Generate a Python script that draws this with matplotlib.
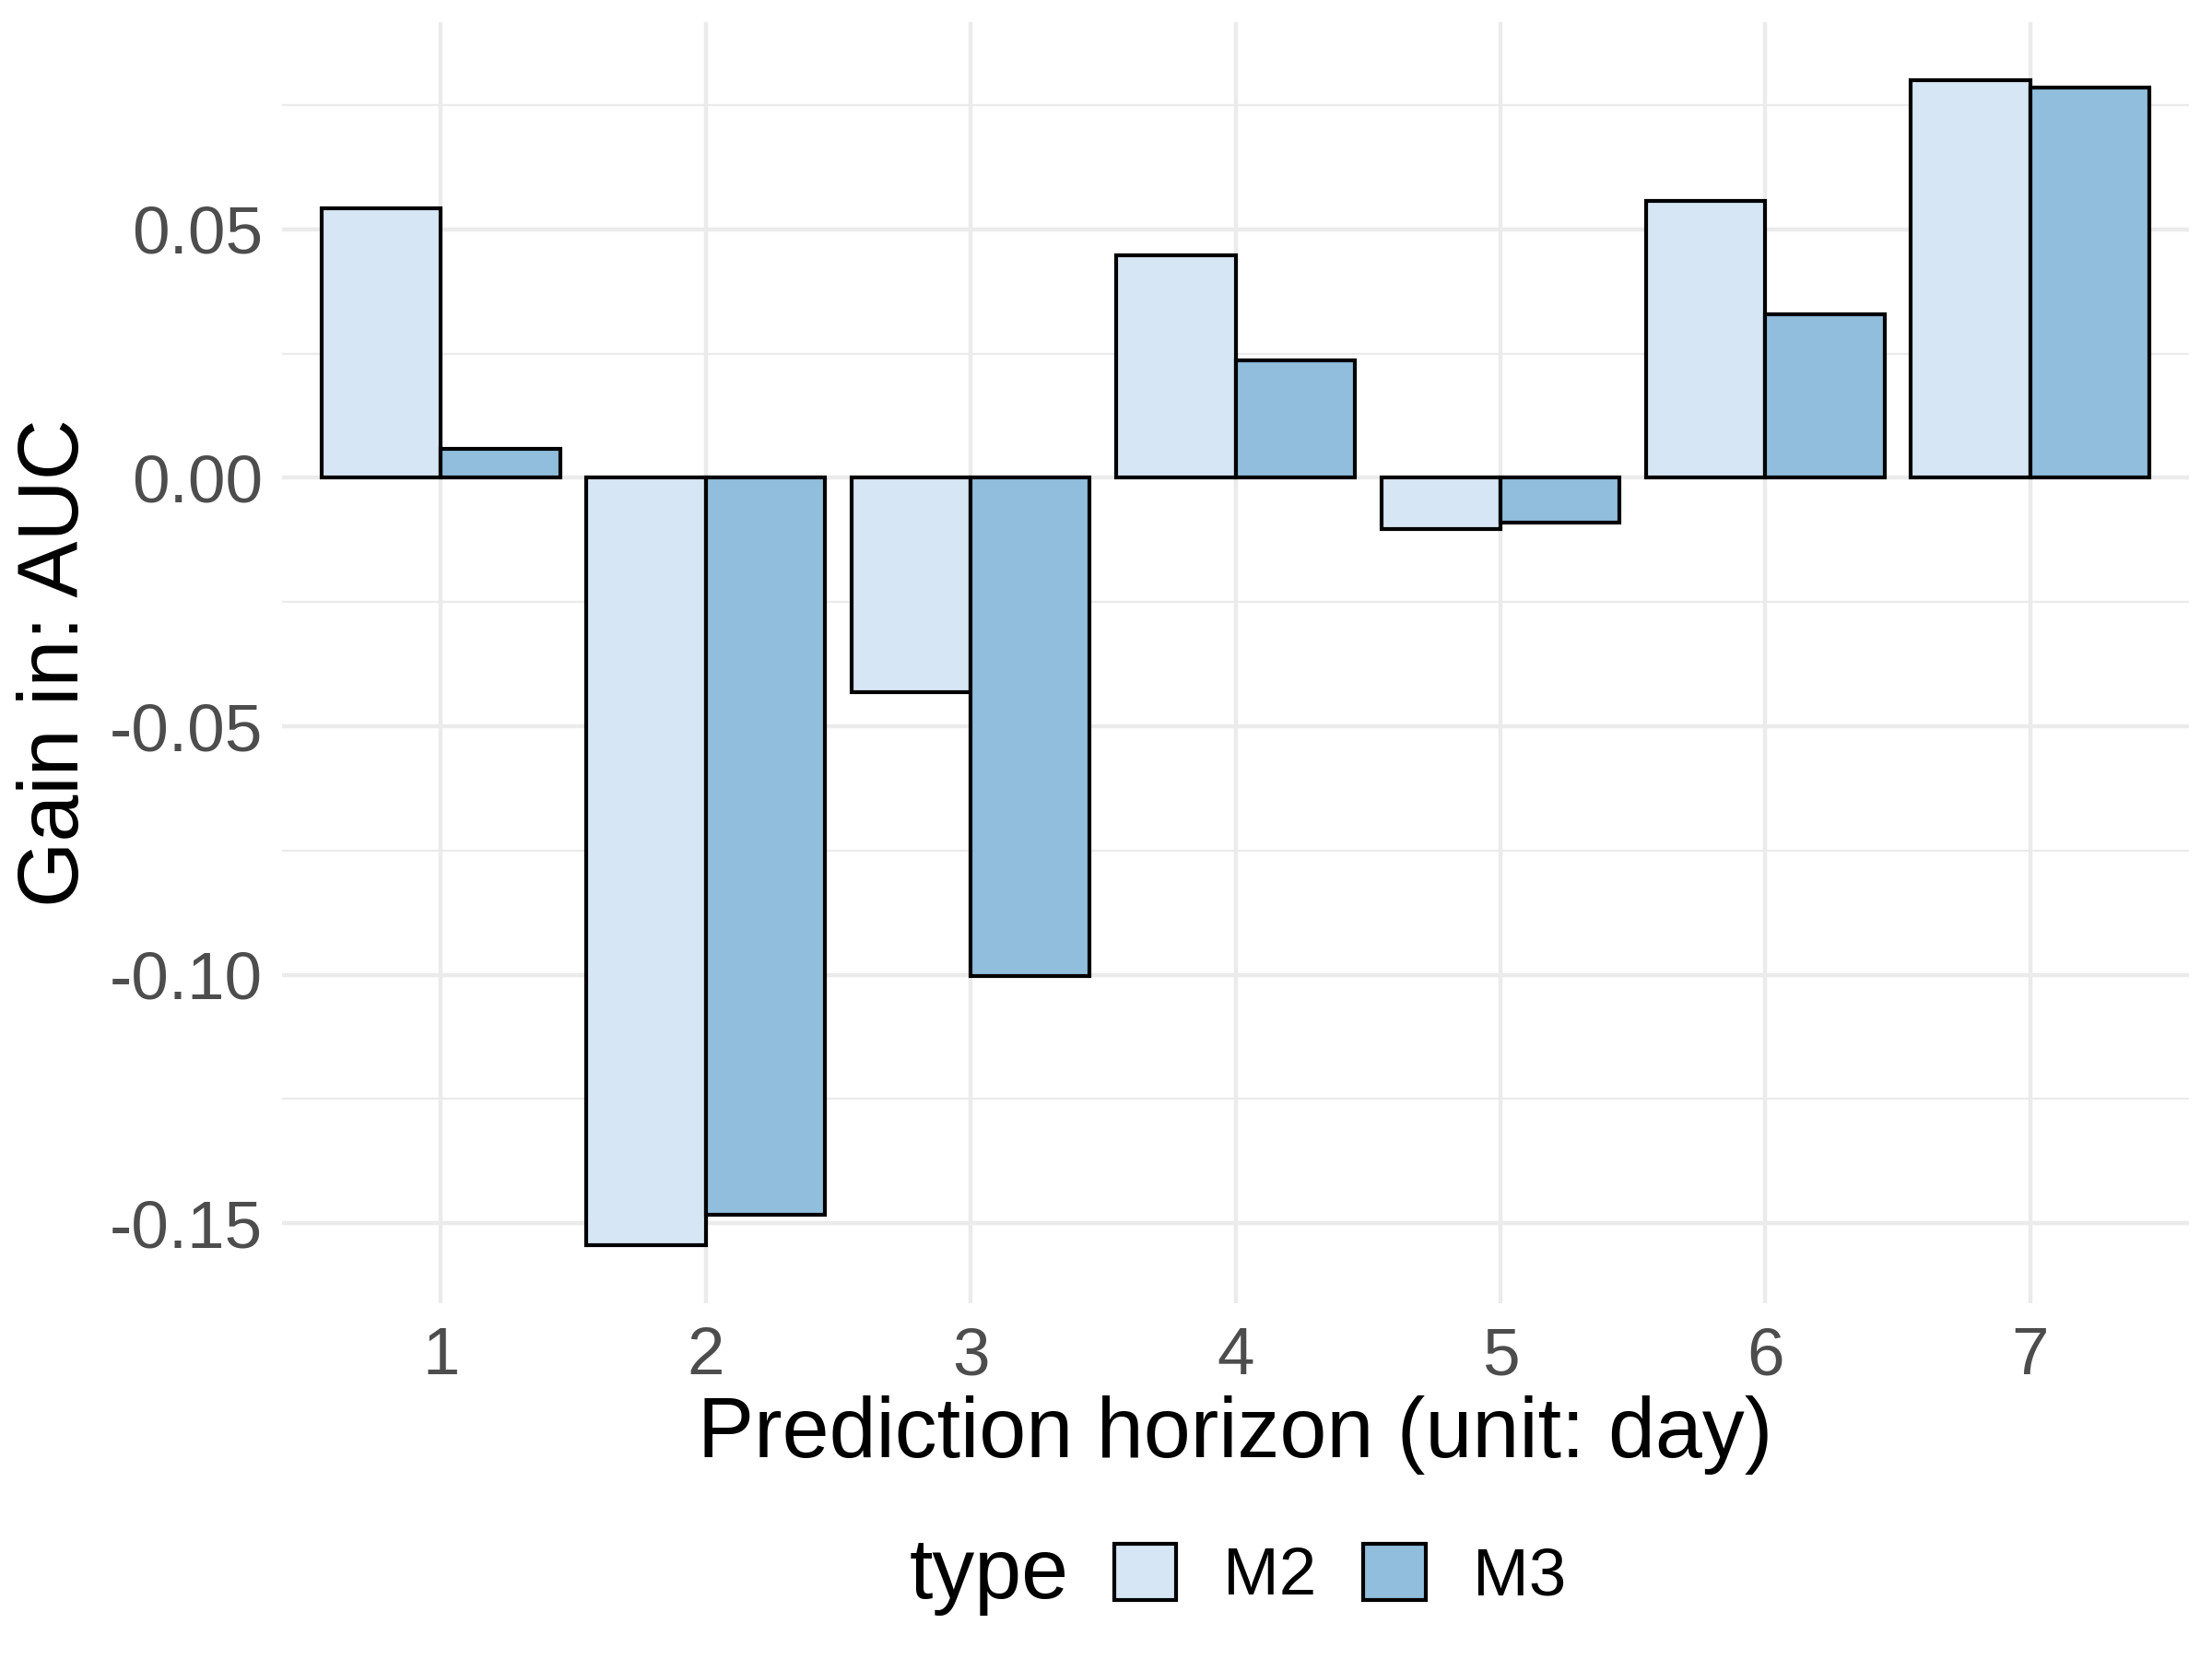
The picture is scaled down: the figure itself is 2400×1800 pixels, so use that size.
import matplotlib
matplotlib.use("Agg")
import matplotlib.pyplot as plt
from matplotlib.patches import Patch
from matplotlib.ticker import MultipleLocator
import numpy as np

plt.rcParams['font.family'] = ['Liberation Sans', 'DejaVu Sans']

horizons = ["1", "2", "3", "4", "5", "6", "7"]
m2 = [0.0543, -0.1544, -0.0431, 0.0448, -0.0103, 0.0558, 0.0800]
m3 = [0.0059, -0.1484, -0.1003, 0.0237, -0.0090, 0.0330, 0.0786]
series_names = ["M2", "M3"]
colors = ["#D6E6F4", "#90BEDC"]

fig = plt.figure(figsize=(8, 6), dpi=300)
ax = fig.add_axes([306/2400, 1 - 1414/1800, (2375-306)/2400, (1414-24)/1800])

x = np.arange(1, len(horizons) + 1)
w = 0.45
for vals, off, col in [(m2, -w/2, colors[0]), (m3, w/2, colors[1])]:
    ax.bar(x + off, vals, width=w, color=col, edgecolor="black", linewidth=1.0, zorder=3)

lo = min(min(m2), min(m3)); hi = max(max(m2), max(m3))
rng = hi - lo
ax.set_ylim(lo - 0.05*rng, hi + 0.05*rng)
ax.set_xlim(0.4, 7.6)

ax.set_xticks(x)
ax.set_xticklabels(horizons)
ax.yaxis.set_major_locator(MultipleLocator(0.05))
ax.yaxis.set_minor_locator(MultipleLocator(0.025))
ax.yaxis.set_major_formatter(matplotlib.ticker.FuncFormatter(lambda v, p: f"{v:.2f}".replace("-0.00", "0.00")))

ax.grid(True, which="major", color="#EBEBEB", linewidth=1.07, zorder=0)
ax.grid(True, which="minor", axis="y", color="#EBEBEB", linewidth=0.53, zorder=0)
ax.set_axisbelow(True)
for s in ax.spines.values():
    s.set_visible(False)
ax.tick_params(axis="both", which="both", length=0, labelsize=17.5, labelcolor="#4D4D4D")
ax.tick_params(axis="x", pad=6)
ax.tick_params(axis="y", pad=5)

ax.set_xlabel("Prediction horizon (unit: day)", fontsize=22, labelpad=2)
ax.set_ylabel("Gain in: AUC", fontsize=22, labelpad=3.5)

fig.text(1160/2400, 1 - 1734/1800, "type", fontsize=22, ha="right", va="baseline")
handles = [Patch(facecolor=c, edgecolor="black", linewidth=1.0, label=n) for c, n in zip(colors, series_names)]
fig.legend(handles=handles, loc="center left", bbox_to_anchor=(1209/2400, 1 - 1710/1800),
           ncol=2, frameon=False, fontsize=17.5, handlelength=0.92, handleheight=0.92,
           handletextpad=0.7, columnspacing=0.7, borderpad=0, borderaxespad=0)

fig.savefig("out.png", dpi=300)
